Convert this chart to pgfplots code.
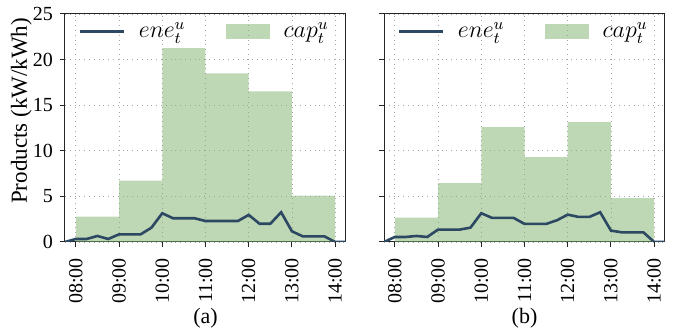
\documentclass[border=0pt]{standalone}
\usepackage{fontspec}
\setmainfont{Liberation Serif}
\usepackage{pgfplots}
\pgfplotsset{compat=1.18}
\definecolor{navy}{RGB}{44,72,98}
\definecolor{capbase}{RGB}{125,175,105}
\pgfplotsset{
 myaxis/.style={
  scale only axis, width=140.5pt, height=114pt,
  xmin=7.75, xmax=14.25, ymin=0, ymax=25,
  xtick={8,9,10,11,12,13,14},
  xticklabels={08:00,09:00,10:00,11:00,12:00,13:00,14:00},
  ytick={0,5,10,15,20,25},
  xticklabel style={rotate=90, anchor=east},
  xticklabel shift=2pt,
  tick align=outside, tick pos=left, major tick length=2.5pt,
  grid=major, grid style={dotted, gray!70, line width=0.4pt},
  axis line style={black!85, line width=0.5pt},
  tick style={black!85, line width=0.5pt},
  font=\fontsize{10}{12}\selectfont,
  /pgf/number format/assume math mode=true,
  legend columns=2, reverse legend,
  legend style={at={(0.5,1.0)}, anchor=north, draw=none, fill=none,
    font=\fontsize{12}{14}\selectfont,
    /tikz/every even column/.append style={column sep=18pt},
    /tikz/every odd column/.append style={column sep=5pt}},
  every axis x label/.style={at={(axis description cs:0.5,-0.333)}, anchor=center,
    font=\fontsize{11}{13}\selectfont},
  every axis y label/.style={at={(axis description cs:-0.155,0.575)}, rotate=90, anchor=center,
    font=\fontsize{11.5}{13}\selectfont},
 },
 capstyle/.style={draw=none, fill=capbase, fill opacity=0.5, const plot mark left,
   legend image code/.code={\fill[capbase, fill opacity=0.5] (0pt,-3.75pt) rectangle (22pt,3.75pt);}},
 enestyle/.style={navy, line width=1.3pt, mark=none,
   legend image code/.code={\draw[navy, line width=1.3pt] (0pt,0pt) -- (22pt,0pt);}},
}
\begin{document}
\begin{tikzpicture}
\path[use as bounding box] (0,0) rectangle (339pt,167.5pt);
\begin{axis}[myaxis, at={(32.5pt,46.5pt)}, anchor=south west,
  ylabel={Products (kW/kWh)}, xlabel={(a)}]
\addplot[capstyle] coordinates {(8,2.78) (9,6.74) (10,21.25) (11,18.5) (12,16.52) (13,5.09) (14,5.09)} \closedcycle;
\addlegendentry{$cap_t^u$}
\addplot[enestyle] coordinates {
(7.75,0) (8,0.33) (8.25,0.33) (8.5,0.66) (8.75,0.33) (9,0.84) (9.25,0.84) (9.5,0.84) (9.75,1.57)
(10,3.15) (10.25,2.6) (10.5,2.6) (10.75,2.6) (11,2.3) (11.25,2.3) (11.5,2.3) (11.75,2.3)
(12,2.97) (12.25,2.0) (12.5,2.0) (12.75,3.26) (13,1.17) (13.25,0.62) (13.5,0.62) (13.75,0.62)
(14,0) (14.25,0)};
\addlegendentry{$ene_t^u$}
\end{axis}
\begin{axis}[myaxis, at={(192pt,46.5pt)}, anchor=south west,
  yticklabels={}, xlabel={(b)}]
\addplot[capstyle] coordinates {(8,2.67) (9,6.45) (10,12.6) (11,9.3) (12,13.15) (13,4.8) (14,4.8)} \closedcycle;
\addlegendentry{$cap_t^u$}
\addplot[enestyle] coordinates {
(7.75,0) (8,0.55) (8.25,0.55) (8.5,0.66) (8.75,0.55) (9,1.36) (9.25,1.36) (9.5,1.36) (9.75,1.57)
(10,3.15) (10.25,2.64) (10.5,2.64) (10.75,2.64) (11,1.98) (11.25,1.98) (11.5,1.98) (11.75,2.38)
(12,3.0) (12.25,2.75) (12.5,2.75) (12.75,3.26) (13,1.25) (13.25,1.06) (13.5,1.06) (13.75,1.06)
(14,0) (14.25,0)};
\addlegendentry{$ene_t^u$}
\end{axis}
\end{tikzpicture}
\end{document}
